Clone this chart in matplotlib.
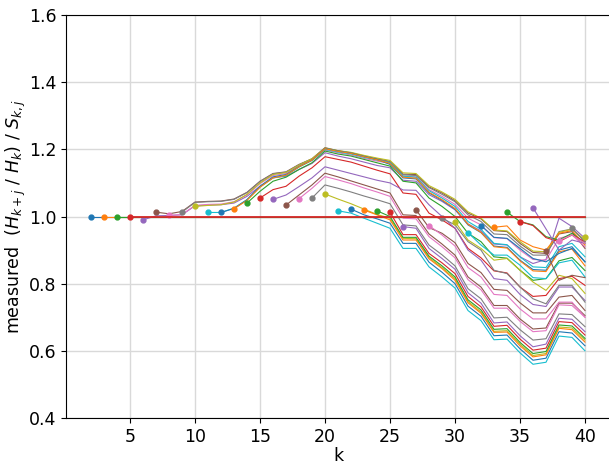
import numpy as np
import matplotlib
matplotlib.use("Agg")
import matplotlib.pyplot as plt

# ratio curves, one per starting k (curve j starts at k = j and runs to k = 40)
c02 = [1.0] * 39
c03 = [1.0] * 38
c04 = [1.0] * 37
c05 = [1.0] * 36
c06 = [0.990, 1.002, 1.003, 1.005, 1.032, 1.034, 1.035, 1.040, 1.060, 1.090,
       1.115, 1.120, 1.140, 1.158, 1.190, 1.180, 1.172, 1.162, 1.152, 1.145,
       1.108, 1.105, 1.065, 1.045, 1.020, 0.978, 0.957, 0.918, 0.915, 0.880,
       0.860, 0.872, 0.995, 0.970, 0.935]
c07 = [1.013, 1.008, 1.015, 1.043, 1.045, 1.046, 1.052, 1.072, 1.105, 1.128,
       1.133, 1.155, 1.172, 1.205, 1.196, 1.190, 1.180, 1.172, 1.164, 1.126,
       1.125, 1.088, 1.070, 1.047, 1.010, 0.993, 0.958, 0.955, 0.920, 0.893,
       0.890, 0.948, 0.955, 0.905]
c08 = [1.003, 1.006, 1.033, 1.036, 1.037, 1.044, 1.064, 1.098, 1.122, 1.128,
       1.150, 1.167, 1.198, 1.190, 1.183, 1.173, 1.165, 1.158, 1.120, 1.118,
       1.080, 1.060, 1.036, 0.995, 0.975, 0.937, 0.934, 0.900, 0.872, 0.870,
       0.935, 0.945, 0.910]
c09 = [1.013, 1.042, 1.044, 1.045, 1.051, 1.071, 1.104, 1.127, 1.132, 1.154,
       1.171, 1.203, 1.195, 1.189, 1.179, 1.171, 1.162, 1.124, 1.122, 1.086,
       1.066, 1.044, 1.005, 0.985, 0.948, 0.946, 0.912, 0.885, 0.885, 0.955,
       0.963, 0.925]
c10 = [1.030, 1.033, 1.035, 1.043, 1.066, 1.100, 1.125, 1.131, 1.153, 1.172,
       1.204, 1.196, 1.191, 1.182, 1.174, 1.167, 1.130, 1.128, 1.092, 1.073,
       1.051, 1.014, 0.995, 0.960, 0.957, 0.925, 0.897, 0.895, 0.953, 0.962,
       0.930]
c11 = [1.012, 1.012, 1.025, 1.050, 1.088, 1.115, 1.122, 1.147, 1.167, 1.200,
       1.192, 1.186, 1.176, 1.168, 1.160, 1.120, 1.117, 1.077, 1.055, 1.030,
       0.985, 0.962, 0.920, 0.916, 0.880, 0.850, 0.848, 0.910, 0.920, 0.880]
c12 = [1.012, 1.024, 1.050, 1.090, 1.118, 1.125, 1.149, 1.168, 1.203, 1.195,
       1.189, 1.179, 1.170, 1.155, 1.115, 1.112, 1.070, 1.048, 1.022, 0.975,
       0.952, 0.912, 0.908, 0.870, 0.842, 0.840, 0.900, 0.910, 0.865]
c13 = [1.023, 1.048, 1.087, 1.115, 1.123, 1.148, 1.168, 1.202, 1.194, 1.188,
       1.178, 1.169, 1.158, 1.117, 1.114, 1.072, 1.050, 1.024, 0.977, 0.953,
       0.910, 0.906, 0.868, 0.838, 0.836, 0.895, 0.903, 0.853]
c14 = [1.040, 1.075, 1.105, 1.117, 1.140, 1.160, 1.195, 1.186, 1.180, 1.170,
       1.160, 1.150, 1.105, 1.100, 1.055, 1.030, 1.000, 0.950, 0.925, 0.880,
       0.876, 0.840, 0.810, 0.815, 0.868, 0.878, 0.839]
c15 = [1.055, 1.080, 1.090, 1.120, 1.145, 1.178, 1.170, 1.162, 1.150, 1.138,
       1.127, 1.070, 1.066, 1.010, 0.990, 0.965, 0.905, 0.877, 0.838, 0.832,
       0.790, 0.762, 0.765, 0.815, 0.822, 0.795]
c16 = [1.051, 1.064, 1.089, 1.115, 1.148, 1.138, 1.128, 1.118, 1.108, 1.100,
       1.079, 1.078, 1.035, 1.000, 0.965, 0.900, 0.870, 0.815, 0.810, 0.768,
       0.738, 0.732, 0.790, 0.790, 0.750]
c17 = [1.034, 1.064, 1.094, 1.129, 1.118, 1.106, 1.094, 1.082, 1.070, 1.005,
       1.003, 0.948, 0.918, 0.885, 0.820, 0.790, 0.735, 0.735, 0.695, 0.665,
       0.668, 0.742, 0.742, 0.705]
c18 = [1.053, 1.084, 1.119, 1.109, 1.098, 1.085, 1.073, 1.060, 0.995, 0.993,
       0.940, 0.910, 0.877, 0.812, 0.782, 0.727, 0.727, 0.688, 0.657, 0.660,
       0.737, 0.735, 0.700]
c19 = [1.055, 1.094, 1.084, 1.073, 1.061, 1.050, 1.038, 0.975, 0.972, 0.915,
       0.886, 0.853, 0.785, 0.755, 0.698, 0.700, 0.663, 0.632, 0.636, 0.710,
       0.708, 0.672]
c20 = [1.067, 1.052, 1.038, 1.022, 1.006, 0.995, 0.935, 0.934, 0.878, 0.848,
       0.815, 0.747, 0.716, 0.658, 0.660, 0.620, 0.586, 0.592, 0.671, 0.668,
       0.632]
c21 = [1.017, 1.010, 0.995, 0.980, 0.965, 0.905, 0.905, 0.850, 0.820, 0.787,
       0.720, 0.690, 0.633, 0.635, 0.594, 0.560, 0.566, 0.644, 0.640, 0.600]
c22 = [1.022, 1.005, 0.993, 0.980, 0.920, 0.920, 0.864, 0.834, 0.800, 0.733,
       0.703, 0.645, 0.647, 0.606, 0.572, 0.578, 0.657, 0.653, 0.615]
c23 = [1.019, 1.005, 0.990, 0.930, 0.930, 0.874, 0.845, 0.810, 0.743, 0.712,
       0.655, 0.656, 0.615, 0.582, 0.588, 0.667, 0.663, 0.626]
c24 = [1.017, 1.000, 0.938, 0.938, 0.882, 0.853, 0.820, 0.752, 0.722, 0.664,
       0.666, 0.625, 0.592, 0.598, 0.677, 0.674, 0.637]
c25 = [1.013, 0.946, 0.946, 0.890, 0.862, 0.830, 0.762, 0.731, 0.673, 0.676,
       0.635, 0.602, 0.608, 0.687, 0.684, 0.647]
c26 = [0.970, 0.965, 0.905, 0.875, 0.843, 0.773, 0.742, 0.683, 0.686, 0.645,
       0.612, 0.620, 0.697, 0.694, 0.657]
c27 = [1.020, 0.967, 0.950, 0.922, 0.860, 0.833, 0.783, 0.780, 0.743, 0.713,
       0.713, 0.760, 0.765, 0.720]
c28 = [0.973, 0.945, 0.912, 0.848, 0.820, 0.768, 0.765, 0.725, 0.695, 0.695,
       0.745, 0.745, 0.700]
c29 = [0.995, 0.975, 0.925, 0.900, 0.840, 0.830, 0.790, 0.755, 0.740, 0.795,
       0.795, 0.745]
c30 = [0.985, 0.930, 0.905, 0.870, 0.875, 0.840, 0.805, 0.780, 0.825, 0.815,
       0.771]
c31 = [0.952, 0.915, 0.885, 0.885, 0.855, 0.818, 0.815, 0.862, 0.870, 0.820]
c32 = [0.973, 0.938, 0.935, 0.905, 0.875, 0.865, 0.890, 0.905, 0.865]
c33 = [0.968, 0.972, 0.930, 0.910, 0.900, 0.950, 0.958, 0.915]
c34 = [1.013, 0.985, 0.975, 0.940, 0.930, 0.950, 0.920]
c35 = [0.985, 0.973, 0.937, 0.925, 0.945, 0.925]
c36 = [1.026, 0.963, 0.900, 0.930, 0.920]
c37 = [0.897, 0.810, 0.825, 0.818]
c38 = [0.928, 0.945, 0.920]
c39 = [0.965, 0.925]
c40 = [0.938]

curves = [c02, c03, c04, c05, c06, c07, c08, c09, c10, c11, c12, c13, c14,
          c15, c16, c17, c18, c19, c20, c21, c22, c23, c24, c25, c26, c27,
          c28, c29, c30, c31, c32, c33, c34, c35, c36, c37, c38, c39, c40]
k_end = 40

plt.rcParams['font.size'] = 12.5
fig = plt.figure(figsize=(6.09, 4.66), dpi=100)
ax = fig.add_axes([66.3 / 609, 48 / 466, 543.4 / 609, 403 / 466])

for y in curves:
    start = k_end - len(y) + 1
    k = np.arange(start, k_end + 1)
    if start == 5:
        # the j=5 curve is the flat reference at 1, keep it on top
        ax.plot(k, y, lw=1.3, marker='o', ms=3.5, markevery=[0], zorder=3)
    else:
        ax.plot(k, y, lw=0.8, marker='o', ms=3.5, markevery=[0])

ax.set_xlim(0.1, 41.9)
ax.set_ylim(0.4, 1.6)
ax.set_xticks([5, 10, 15, 20, 25, 30, 35, 40])
ax.set_yticks(np.arange(0.4, 1.61, 0.2))
ax.grid(True, color='#d9d9d9', lw=1.0)
ax.set_axisbelow(True)
ax.set_xlabel('k', labelpad=1)
ax.set_ylabel(r'measured  $(H_{k+j}\ /\ H_k)\ /\ S_{k,j}$', labelpad=1)

fig.savefig('out.png', dpi=100)
